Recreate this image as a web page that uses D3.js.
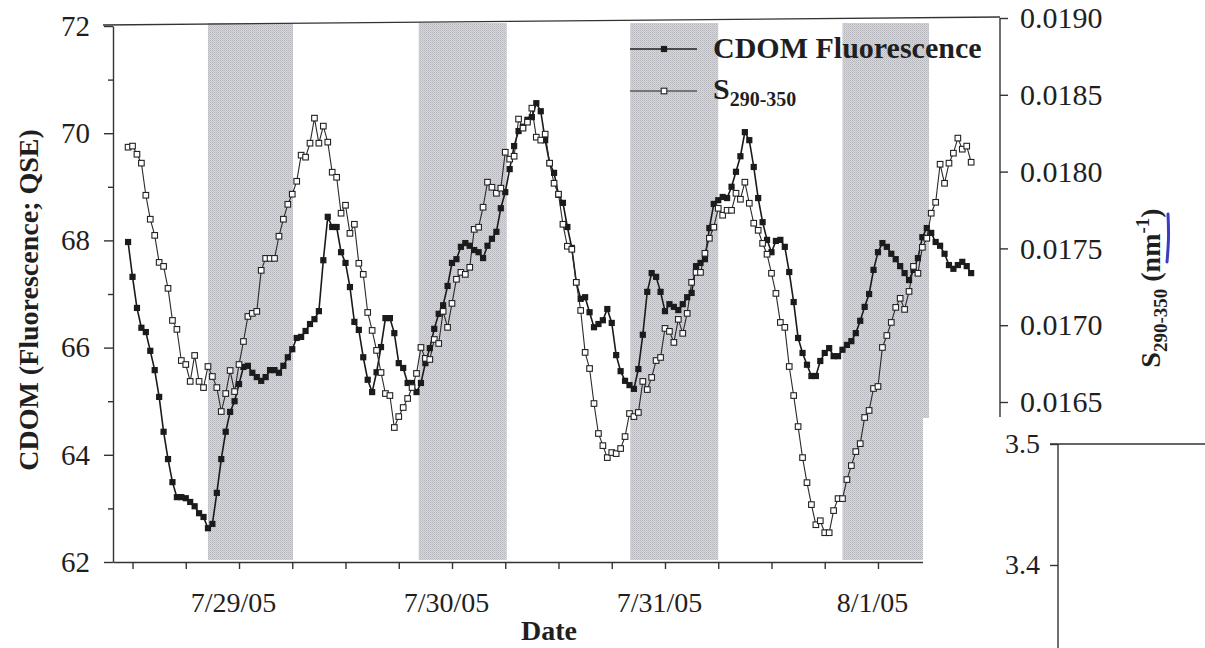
<!DOCTYPE html>
<html><head><meta charset="utf-8">
<script src="https://cdn.jsdelivr.net/npm/d3@7"></script>
<style>
html,body{margin:0;padding:0;background:#fff;}
svg{display:block;}
text{font-family:"Liberation Serif","Times New Roman",serif;fill:#1f1f1f;}
</style></head><body>
<svg id="chart" width="1205" height="648"></svg>
<script>
// ---------------- data ----------------
const seriesNames = ["CDOM Fluorescence", "S", "290-350"];
const sampleStart = new Date(2005, 6, 28, 11, 30);   // first sample, 7/28/05 11:30
const sampleStepMinutes = 30;                       // half-hourly sampling

const cdomValues = [
67.97,67.32,66.74,66.37,66.29,65.94,65.58,65.08,64.43,63.92,
63.49,63.21,63.21,63.19,63.12,63.04,62.91,62.84,62.63,62.71,
63.29,63.92,64.43,64.80,65.00,65.32,65.64,65.66,65.53,65.45,
65.38,65.45,65.58,65.58,65.53,65.66,65.82,65.97,66.18,66.20,
66.31,66.44,66.53,66.68,67.63,68.44,68.25,68.25,67.78,67.58,
67.13,66.48,66.33,65.82,65.40,65.17,65.54,66.01,66.55,66.55,
66.27,65.71,65.62,65.34,65.34,65.17,65.34,65.71,65.99,66.35,
66.63,66.79,67.15,67.58,67.65,67.88,67.95,67.90,67.82,67.78,
67.67,67.90,68.03,68.16,68.60,68.90,69.33,69.76,70.04,70.12,
70.25,70.30,70.56,70.41,69.87,69.44,69.26,68.85,68.70,68.25,
67.86,67.22,66.91,66.94,66.66,66.38,66.44,66.51,66.72,66.46,
65.86,65.56,65.38,65.30,65.23,65.60,66.24,67.04,67.39,67.32,
67.04,66.68,66.81,66.76,66.70,66.81,66.94,67.02,67.52,67.58,
67.65,68.23,68.68,68.75,68.81,68.79,69.00,69.28,69.57,70.02,
69.87,69.37,68.79,68.34,68.01,67.78,67.99,68.01,67.88,67.41,
66.85,66.18,65.90,65.68,65.47,65.47,65.75,65.90,65.99,65.84,
65.84,65.96,66.05,66.12,66.27,66.50,66.76,67.00,67.45,67.78,
67.95,67.88,67.75,67.65,67.52,67.39,67.26,67.45,67.67,68.06,
68.23,68.14,67.97,67.90,67.75,67.54,67.47,67.54,67.60,67.52,
67.39];

const slopeValues = [
0.018159,0.018166,0.018113,0.018055,0.017846,0.017690,0.017585,0.017409,0.017383,0.017240,
0.017031,0.016973,0.016770,0.016744,0.016634,0.016803,0.016634,0.016594,0.016731,0.016666,
0.016594,0.016438,0.016555,0.016705,0.016568,0.016744,0.016894,0.017057,0.017077,0.017090,
0.017357,0.017435,0.017435,0.017435,0.017579,0.017690,0.017787,0.017853,0.017937,0.018107,
0.018094,0.018185,0.018348,0.018185,0.018296,0.018192,0.017996,0.017963,0.017729,0.017781,
0.017598,0.017657,0.017403,0.017331,0.017083,0.016966,0.016836,0.016692,0.016555,0.016542,
0.016334,0.016405,0.016464,0.016523,0.016594,0.016686,0.016855,0.016784,0.016777,0.016907,
0.016881,0.017090,0.016986,0.017142,0.017299,0.017344,0.017331,0.017377,0.017624,0.017638,
0.017768,0.017931,0.017898,0.017859,0.017892,0.018126,0.018081,0.018100,0.018342,0.018283,
0.018322,0.018413,0.018224,0.018205,0.018244,0.018055,0.017924,0.017853,0.017657,0.017514,
0.017494,0.017279,0.017096,0.016823,0.016718,0.016490,0.016295,0.016216,0.016138,0.016171,
0.016164,0.016197,0.016275,0.016425,0.016405,0.016432,0.016634,0.016581,0.016660,0.016770,
0.016790,0.016979,0.016960,0.016888,0.017038,0.016947,0.017077,0.017279,0.017344,0.017344,
0.017468,0.017566,0.017638,0.017761,0.017716,0.017748,0.017748,0.017859,0.017820,0.017931,
0.017794,0.017664,0.017618,0.017533,0.017462,0.017338,0.017207,0.017018,0.016986,0.016731,
0.016542,0.016340,0.016138,0.015975,0.015832,0.015701,0.015727,0.015649,0.015649,0.015793,
0.015871,0.015871,0.015995,0.016086,0.016177,0.016229,0.016399,0.016445,0.016588,0.016601,
0.016855,0.016933,0.017018,0.017116,0.017175,0.017103,0.017220,0.017383,0.017338,0.017507,
0.017566,0.017729,0.017800,0.018048,0.017924,0.018055,0.018120,0.018218,0.018146,0.018166,
0.018061];

const leftTicks = [62, 64, 66, 68, 70, 72];
const leftMinorTicks = [63, 65, 67, 69, 71];
const rightTicks = [0.0165, 0.0170, 0.0175, 0.0180, 0.0185, 0.0190];
const insetTicks = [3.4, 3.5];
const nightStarts = [new Date(2005,6,28,20,30), new Date(2005,6,29,20,15), new Date(2005,6,30,20,5), new Date(2005,6,31,20,0)];
const nightEnds   = [new Date(2005,6,29,6,5),   new Date(2005,6,30,6,10),  new Date(2005,6,31,6,0),  new Date(2005,7,1,5,45)];
const xDomain = [new Date(2005,6,28,9,48), new Date(2005,7,1,13,45)];

// ---------------- layout ----------------
const svg = d3.select("#chart");
const L = 113, R = 1000, T = 26, B = 562;
const ink = "#1f1f1f";

const x = d3.scaleTime().domain(xDomain).range([L, R]);
const yL = d3.scaleLinear().domain([62, 72]).range([B, T]);
const yS = d3.scaleLinear().domain([0.0165, 0.0190]).range([402, 18]);

const times = cdomValues.map((_, i) => d3.timeMinute.offset(sampleStart, i * sampleStepMinutes));
const cdom = cdomValues.map((v, i) => ({t: times[i], v}));
const slope = slopeValues.map((v, i) => ({t: d3.timeMinute.offset(sampleStart, i * sampleStepMinutes), v}));

// halftone pattern for night bands
const defs = svg.append("defs");
const pat = defs.append("pattern").attr("id", "halftone").attr("width", 2).attr("height", 2)
  .attr("patternUnits", "userSpaceOnUse");
pat.append("rect").attr("width", 2).attr("height", 2).attr("fill", "#d6d6dc");
pat.append("rect").attr("width", 1).attr("height", 1).attr("fill", "#b6b6bd");
pat.append("rect").attr("x", 1).attr("y", 1).attr("width", 1).attr("height", 1).attr("fill", "#c3c3c9");

svg.append("rect").attr("width", 1205).attr("height", 648).attr("fill", "#fff");

// night bands
svg.append("g").selectAll("rect").data(nightStarts).join("rect")
  .attr("x", (d) => x(d))
  .attr("width", (d, i) => x(nightEnds[i]) - x(d))
  .attr("y", yL(72) - 3)
  .attr("height", yL(62) - yL(72) + 1)
  .attr("fill", "url(#halftone)");

// top frame line (follows the slight tilt of the scanned page)
svg.append("path")
  .attr("d", d3.line()([[L - 10, yL(72) - 1], [R, yS(0.0190) - 1]]))
  .attr("stroke", "#333").attr("stroke-width", 1.4).attr("fill", "none");

// left axis
const gL = svg.append("g").attr("transform", `translate(${L},0)`);
gL.call(d3.axisLeft(yL).tickValues(leftTicks).tickSize(9).tickPadding(14).tickSizeOuter(0).tickFormat(d3.format("d")));
gL.append("g").call(d3.axisLeft(yL).tickValues(leftMinorTicks).tickSize(5).tickFormat(""))
  .select(".domain").remove();
gL.selectAll("text").attr("font-size", 29).attr("fill", ink).style("font-family", '"Liberation Serif", serif');
gL.selectAll("path,line").attr("stroke", "#333").attr("stroke-width", 1.4);

// bottom axis
const gB = svg.append("g").attr("transform", `translate(0,${B})`);
gB.call(d3.axisBottom(x).ticks(d3.timeHour.every(6)).tickSize(7).tickPadding(23).tickSizeOuter(0)
  .tickFormat((d) => d.getHours() === 0 ? d3.timeFormat("%-m/%-d/%y")(d) : ""));
gB.selectAll("text").attr("font-size", 28).attr("dx", -6).attr("fill", ink).style("font-family", '"Liberation Serif", serif');
gB.selectAll("path,line").attr("stroke", "#333").attr("stroke-width", 1.4);

// right axis
const gR = svg.append("g").attr("transform", `translate(${R},0)`);
gR.call(d3.axisRight(yS).tickValues(rightTicks).tickSize(8).tickPadding(12).tickFormat(d3.format(".4f")));
gR.select(".domain").remove();
gR.append("line").attr("x1", 0).attr("x2", 0).attr("y1", yS(0.0190)).attr("y2", yS(0.0165) + 15);
gR.selectAll("text").attr("font-size", 30).attr("fill", ink).style("font-family", '"Liberation Serif", serif');
gR.selectAll("path,line").attr("stroke", "#333").attr("stroke-width", 1.4);

// series lines
svg.append("path").datum(cdom)
  .attr("d", d3.line().x((d) => x(d.t)).y((d) => yL(d.v)))
  .attr("fill", "none").attr("stroke", "#1a1a1a").attr("stroke-width", 1.6);
svg.append("path").datum(slope)
  .attr("d", d3.line().x((d) => x(d.t)).y((d) => yS(d.v)))
  .attr("fill", "none").attr("stroke", "#2a2a2a").attr("stroke-width", 1.1);

// markers
const ms = 6.2, os = 5.6;
svg.append("g").selectAll("rect").data(cdom).join("rect")
  .attr("x", (d) => x(d.t) - ms / 2).attr("y", (d) => yL(d.v) - ms / 2)
  .attr("width", ms).attr("height", ms).attr("fill", "#1b1b1b");
svg.append("g").selectAll("rect").data(slope).join("rect")
  .attr("x", (d) => x(d.t) - os / 2).attr("y", (d) => yS(d.v) - os / 2)
  .attr("width", os).attr("height", os).attr("fill", "#fff").attr("stroke", "#222").attr("stroke-width", 1.1);

// legend
const lg = svg.append("g");
const legendRows = [{y: 49, filled: true}, {y: 91, filled: false}];
legendRows.forEach((r) => {
  lg.append("line").attr("x1", 630).attr("x2", 697).attr("y1", r.y).attr("y2", r.y)
    .attr("stroke", "#222").attr("stroke-width", r.filled ? 1.5 : 1.1);
  if (r.filled) {
    lg.append("rect").attr("x", 664 - ms / 2).attr("y", r.y - ms / 2).attr("width", ms).attr("height", ms).attr("fill", "#1b1b1b");
  } else {
    lg.append("rect").attr("x", 664 - os / 2).attr("y", r.y - os / 2).attr("width", os).attr("height", os)
      .attr("fill", "#fff").attr("stroke", "#222").attr("stroke-width", 1.1);
  }
});
lg.append("text").attr("x", 713).attr("y", 58).attr("font-size", 30).attr("font-weight", "bold").text(seriesNames[0]);
const s2 = lg.append("text").attr("x", 713).attr("y", 99).attr("font-size", 30).attr("font-weight", "bold");
s2.append("tspan").text(seriesNames[1]);
s2.append("tspan").attr("dy", 7).attr("font-size", 20).text(seriesNames[2]);

// axis titles
svg.append("text").attr("x", 549).attr("y", 640).attr("text-anchor", "middle")
  .attr("font-size", 28).attr("font-weight", "bold").text("Date");
svg.append("text").attr("transform", "translate(38,300) rotate(-90)").attr("text-anchor", "middle")
  .attr("font-size", 28).attr("font-weight", "bold").text("CDOM (Fluorescence; QSE)");
const rt = svg.append("text").attr("transform", "translate(1160,288) rotate(-90)").attr("text-anchor", "middle")
  .attr("font-size", 28).attr("font-weight", "bold");
rt.append("tspan").text("S");
rt.append("tspan").attr("dy", 7).attr("font-size", 19).text("290-350");
rt.append("tspan").attr("dy", -7).text(" (nm");
rt.append("tspan").attr("dy", -11).attr("font-size", 19).text("-1");
rt.append("tspan").attr("dy", 11).text(")");
// pen mark on the scanned page
svg.append("path").attr("d", d3.line().curve(d3.curveBasis)([[1168, 214], [1169, 238], [1167, 262]]))
  .attr("stroke", "#3b3bc4").attr("stroke-width", 3).attr("fill", "none").attr("stroke-linecap", "round");

// cut-off lower right corner of the scanned figure
svg.append("rect").attr("x", 923).attr("y", 418).attr("width", 130).attr("height", 230).attr("fill", "#fff");

// fragment of the next panel
const yI = d3.scaleLinear().domain([3.4, 3.5]).range([565, 444]);
const gI = svg.append("g").attr("transform", "translate(1058,0)");
gI.call(d3.axisLeft(yI).tickValues(insetTicks).tickSize(8).tickPadding(10).tickSizeOuter(0).tickFormat(d3.format(".1f")));
gI.select(".domain").remove();
gI.append("line").attr("x1", 0).attr("x2", 0).attr("y1", yI(3.5)).attr("y2", 648);
gI.append("line").attr("x1", -8).attr("x2", 147).attr("y1", yI(3.5)).attr("y2", yI(3.5));
gI.selectAll("text").attr("font-size", 28).attr("fill", ink).style("font-family", '"Liberation Serif", serif');
gI.selectAll("path,line").attr("stroke", "#333").attr("stroke-width", 1.4);
</script>
</body></html>
